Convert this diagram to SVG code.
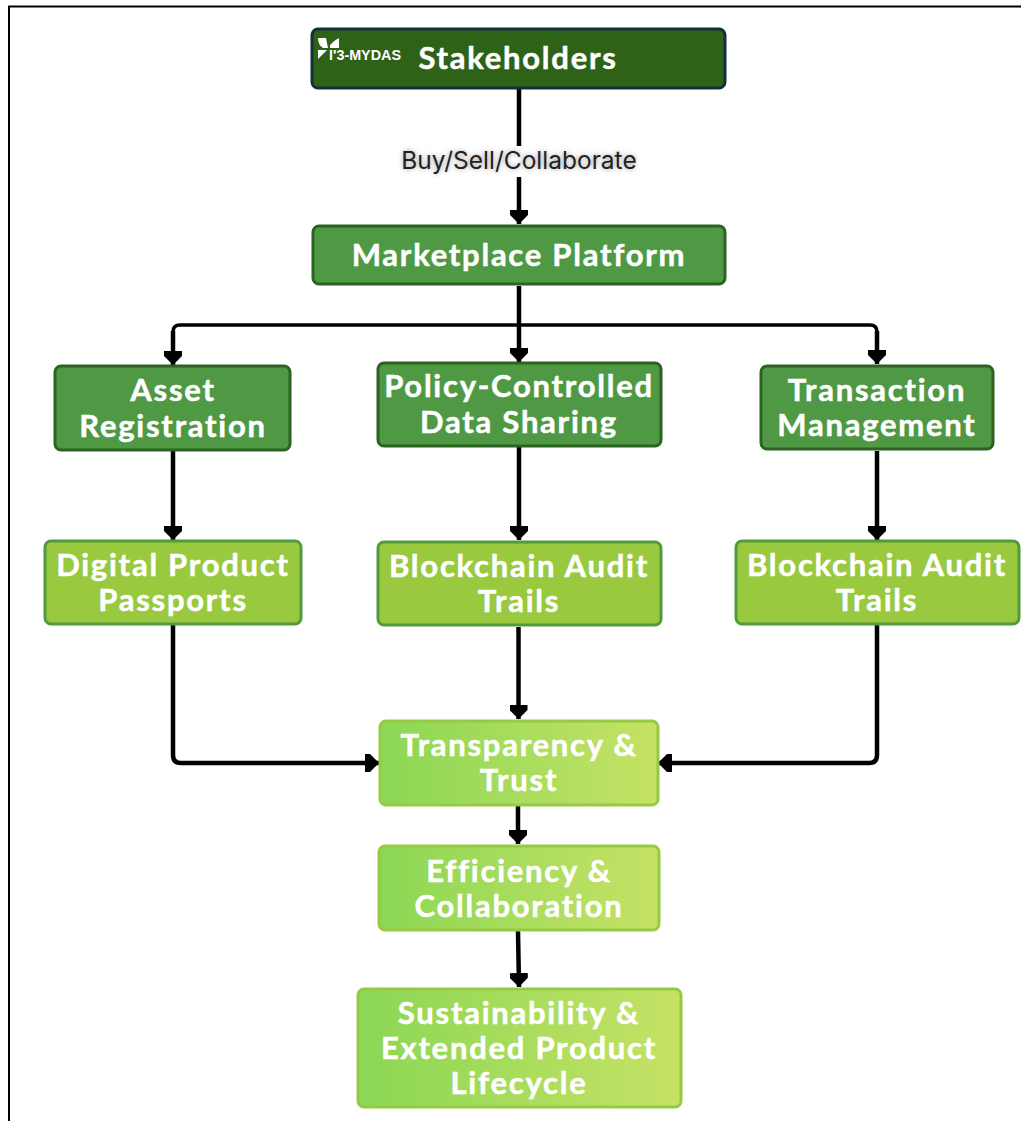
<svg xmlns="http://www.w3.org/2000/svg" width="1021" height="1121" viewBox="0 0 1021 1121">
<style>
.n{stroke-width:3}
.d{fill:#4f9945;stroke:#2a6420}
.m{fill:#98c93f;stroke:#55993f}
.g{stroke:#96c944}
text{font-family:"Lato","Liberation Sans",sans-serif;font-weight:700;fill:#fff;stroke:#fff;stroke-width:.5px;text-anchor:middle;font-size:31px;letter-spacing:1.75px}
.e{font-family:Inter,"Liberation Sans",sans-serif;font-weight:400;font-size:24.5px;letter-spacing:0;stroke:none}
.c{fill:none;stroke:#000;stroke-width:4.5;stroke-linejoin:round}
.b{fill:none;stroke:#000;stroke-width:3.5}
</style>
<defs>
<linearGradient id="gr" x1="0" y1="0" x2="1" y2="0"><stop offset="0" stop-color="#8bd755"/><stop offset="1" stop-color="#c6e265"/></linearGradient>
<marker id="a" viewBox="0 0 14 18" markerUnits="userSpaceOnUse" markerWidth="14" markerHeight="18" refX="14" refY="9" orient="auto"><path d="M0 0H5L14 9L5 18H0Z" fill="#000"/></marker>
<filter id="s" x="-10%" y="-40%" width="120%" height="180%"><feGaussianBlur stdDeviation="2.5"/></filter>
</defs>
<path id="frame" d="M9 1121V6.500H1021" fill="none" stroke="#000" stroke-width="2"/>
<g id="connectors">
<path class="c" d="M519 89V224" marker-end="url(#a)"/>
<path class="c" d="M519 286V362" marker-end="url(#a)"/>
<path class="b" d="M519 325H180Q173 325 173 332"/>
<path class="b" d="M519 325H870Q877 325 877 332"/>
<path class="c" d="M173 331V365" marker-end="url(#a)"/>
<path class="c" d="M877 331V364" marker-end="url(#a)"/>
<path class="c" d="M173 451V540" marker-end="url(#a)"/>
<path class="c" d="M519 447V540" marker-end="url(#a)"/>
<path class="c" d="M877 451V540" marker-end="url(#a)"/>
<path class="c" d="M173 625V755Q173 763 181 763H379" marker-end="url(#a)"/>
<path class="c" d="M518.500 627V719" marker-end="url(#a)"/>
<path class="c" d="M877 625V755Q877 763 869 763H658" marker-end="url(#a)"/>
<path class="c" d="M518 806V844" marker-end="url(#a)"/>
<path class="c" d="M518 931L519 987" marker-end="url(#a)"/>
</g>
<g id="edge-label">
<rect x="400" y="146" width="238" height="31" fill="#fff"/>
<text class="e" x="519" y="169" filter="url(#s)" style="fill:#999">Buy/Sell/Collaborate</text>
<text class="e" x="519" y="169" style="fill:#222">Buy/Sell/Collaborate</text>
</g>
<g id="stakeholders">
<rect class="n" x="312" y="29" width="413" height="59" rx="6" fill="#2e6317" stroke="#12303a"/>
<path d="M318 38H326L328 48H323Q318 45 318 38Z M339 38V48H330V45Q333 41 339 38Z M318 50H327L318 59Z" fill="#fff"/>
<text x="365" y="60" textLength="72" lengthAdjust="spacingAndGlyphs" style="font-family:'Liberation Sans',sans-serif;font-size:14px;letter-spacing:0;stroke:none">I'3-MYDAS</text>
<text x="518" y="69">Stakeholders</text>
</g>
<g id="marketplace"><rect class="n d" x="313" y="226" width="412" height="58" rx="6"/><text x="519" y="266">Marketplace Platform</text></g>
<g id="asset"><rect class="n d" x="55" y="366" width="235" height="84" rx="6"/><text x="173" y="401">Asset</text><text x="173" y="437">Registration</text></g>
<g id="policy"><rect class="n d" x="378" y="363" width="283" height="83" rx="6"/><text x="519" y="397">Policy-Controlled</text><text x="519" y="433">Data Sharing</text></g>
<g id="transaction"><rect class="n d" x="761" y="366" width="232" height="83" rx="6"/><text x="877" y="401">Transaction</text><text x="877" y="436">Management</text></g>
<g id="passports"><rect class="n m" x="45" y="541" width="256" height="83" rx="6"/><text x="173" y="576">Digital Product</text><text x="173" y="611">Passports</text></g>
<g id="audit-1"><rect class="n m" x="378" y="542" width="283" height="83" rx="6"/><text x="519" y="577">Blockchain Audit</text><text x="519" y="612">Trails</text></g>
<g id="audit-2"><rect class="n m" x="736" y="541" width="283" height="83" rx="6"/><text x="877" y="576">Blockchain Audit</text><text x="877" y="611">Trails</text></g>
<g id="transparency"><rect class="n g" x="380" y="721" width="278" height="84" rx="6" fill="url(#gr)"/><text x="519" y="756">Transparency &amp;</text><text x="519" y="791">Trust</text></g>
<g id="efficiency"><rect class="n g" x="379" y="846" width="280" height="84" rx="6" fill="url(#gr)"/><text x="519" y="882">Efficiency &amp;</text><text x="519" y="917">Collaboration</text></g>
<g id="sustainability"><rect class="n g" x="358" y="989" width="323" height="118" rx="6" fill="url(#gr)"/><text x="519" y="1024">Sustainability &amp;</text><text x="519" y="1059">Extended Product</text><text x="519" y="1094">Lifecycle</text></g>
</svg>
